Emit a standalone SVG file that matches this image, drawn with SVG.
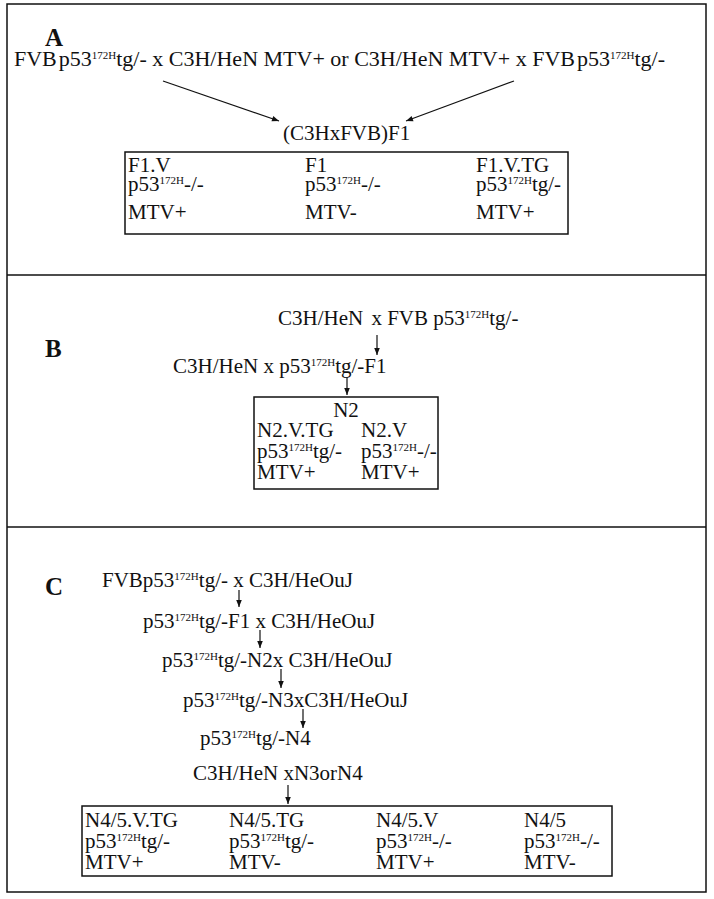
<svg xmlns="http://www.w3.org/2000/svg" width="714" height="899" viewBox="0 0 714 899">
<style>
text{font-family:"Liberation Serif","Times New Roman",serif;fill:#111;font-size:21px}
.big{font-size:22px}
.lbl{font-weight:bold;font-size:25px}
.sup{font-size:11px}
.frame{fill:none;stroke:#111;stroke-width:1.5}
.box{fill:none;stroke:#111;stroke-width:1.5}
.conn line{stroke:#111;stroke-width:1.2;marker-end:url(#ah)}
</style>
<defs>
<marker id="ah" viewBox="0 0 10 10" refX="10" refY="5" markerWidth="8" markerHeight="7" markerUnits="userSpaceOnUse" orient="auto"><path d="M0,1 L10,5 L0,9 z" fill="#111"/></marker>
</defs>
<rect width="714" height="899" fill="#fff"/>
<g id="frame">
<rect class="frame" x="7" y="4" width="699" height="888"/>
<line class="frame" x1="7" y1="275" x2="706" y2="275"/>
<line class="frame" x1="7" y1="527" x2="706" y2="527"/>
</g>

<g id="panelA">
<text class="lbl" x="45" y="46">A</text>
<g id="a-cross"><text class="big" x="14" y="66">FVB<tspan dx="2">p53</tspan><tspan class="sup" dy="-7.5">172H</tspan><tspan dy="7.5">tg/- x C3H/HeN MTV+ or C3H/HeN MTV+ x FVB</tspan><tspan dx="2">p53</tspan><tspan class="sup" dy="-7.5">172H</tspan><tspan dy="7.5">tg/-</tspan></text></g>
<g id="a-f1"><text x="283" y="140">(C3HxFVB)F1</text></g>
<g id="a-box">
<rect class="box" x="125" y="152" width="443" height="82"/>
<text x="128" y="172">F1.V</text>
<text x="128" y="191">p53<tspan class="sup" dy="-7">172H</tspan><tspan dy="7">-/-</tspan></text>
<text x="128" y="219">MTV+</text>
<text x="305" y="172">F1</text>
<text x="305" y="191">p53<tspan class="sup" dy="-7">172H</tspan><tspan dy="7">-/-</tspan></text>
<text x="305" y="219">MTV-</text>
<text x="476" y="172">F1.V.TG</text>
<text x="476" y="191">p53<tspan class="sup" dy="-7">172H</tspan><tspan dy="7">tg/-</tspan></text>
<text x="476" y="219">MTV+</text>
</g>
</g>

<g id="panelB">
<text class="lbl" x="45" y="357">B</text>
<g id="b-cross1"><text x="278" y="325">C3H/HeN<tspan dx="3"> x FVB p53</tspan><tspan class="sup" dy="-7">172H</tspan><tspan dy="7">tg/-</tspan></text></g>
<g id="b-cross2"><text x="173" y="373">C3H/HeN x p53<tspan class="sup" dy="-7">172H</tspan><tspan dy="7">tg/-F1</tspan></text></g>
<g id="b-box">
<rect class="box" x="254" y="397" width="184" height="92"/>
<text x="346" y="417" text-anchor="middle">N2</text>
<text x="257" y="437">N2.V.TG</text>
<text x="257" y="458">p53<tspan class="sup" dy="-7">172H</tspan><tspan dy="7">tg/-</tspan></text>
<text x="257" y="479">MTV+</text>
<text x="361" y="437">N2.V</text>
<text x="361" y="458">p53<tspan class="sup" dy="-7">172H</tspan><tspan dy="7">-/-</tspan></text>
<text x="361" y="479">MTV+</text>
</g>
</g>

<g id="panelC">
<text class="lbl" x="45" y="595">C</text>
<g id="c-l1"><text x="102" y="587">FVBp53<tspan class="sup" dy="-7">172H</tspan><tspan dy="7">tg/- x C3H/HeOuJ</tspan></text></g>
<g id="c-l2"><text x="143" y="628">p53<tspan class="sup" dy="-7">172H</tspan><tspan dy="7">tg/-F1 x C3H/HeOuJ</tspan></text></g>
<g id="c-l3"><text x="162" y="667">p53<tspan class="sup" dy="-7">172H</tspan><tspan dy="7">tg/-N2x C3H/HeOuJ</tspan></text></g>
<g id="c-l4"><text x="183" y="707">p53<tspan class="sup" dy="-7">172H</tspan><tspan dy="7">tg/-N3xC3H/HeOuJ</tspan></text></g>
<g id="c-l5"><text x="200" y="745">p53<tspan class="sup" dy="-7">172H</tspan><tspan dy="7">tg/-N4</tspan></text></g>
<g id="c-l6"><text x="193" y="780">C3H/HeN xN3orN4</text></g>
<g id="c-box">
<rect class="box" x="82" y="806" width="530" height="70"/>
<text x="85" y="827">N4/5.V.TG</text>
<text x="85" y="848">p53<tspan class="sup" dy="-7">172H</tspan><tspan dy="7">tg/-</tspan></text>
<text x="85" y="869">MTV+</text>
<text x="229" y="827">N4/5.TG</text>
<text x="229" y="848">p53<tspan class="sup" dy="-7">172H</tspan><tspan dy="7">tg/-</tspan></text>
<text x="229" y="869">MTV-</text>
<text x="376" y="827">N4/5.V</text>
<text x="376" y="848">p53<tspan class="sup" dy="-7">172H</tspan><tspan dy="7">-/-</tspan></text>
<text x="376" y="869">MTV+</text>
<text x="524" y="827">N4/5</text>
<text x="524" y="848">p53<tspan class="sup" dy="-7">172H</tspan><tspan dy="7">-/-</tspan></text>
<text x="524" y="869">MTV-</text>
</g>
</g>

<g id="connectors" class="conn">
<line x1="163" y1="81" x2="279" y2="121"/>
<line x1="514" y1="81" x2="406" y2="121"/>
<line x1="377" y1="335" x2="377" y2="355"/>
<line x1="347" y1="377" x2="347" y2="395"/>
<line x1="239" y1="590" x2="239" y2="607"/>
<line x1="260" y1="630" x2="260" y2="648"/>
<line x1="281" y1="669" x2="281" y2="688"/>
<line x1="303" y1="709" x2="303" y2="728"/>
<line x1="288" y1="785" x2="288" y2="804"/>
</g>
</svg>
